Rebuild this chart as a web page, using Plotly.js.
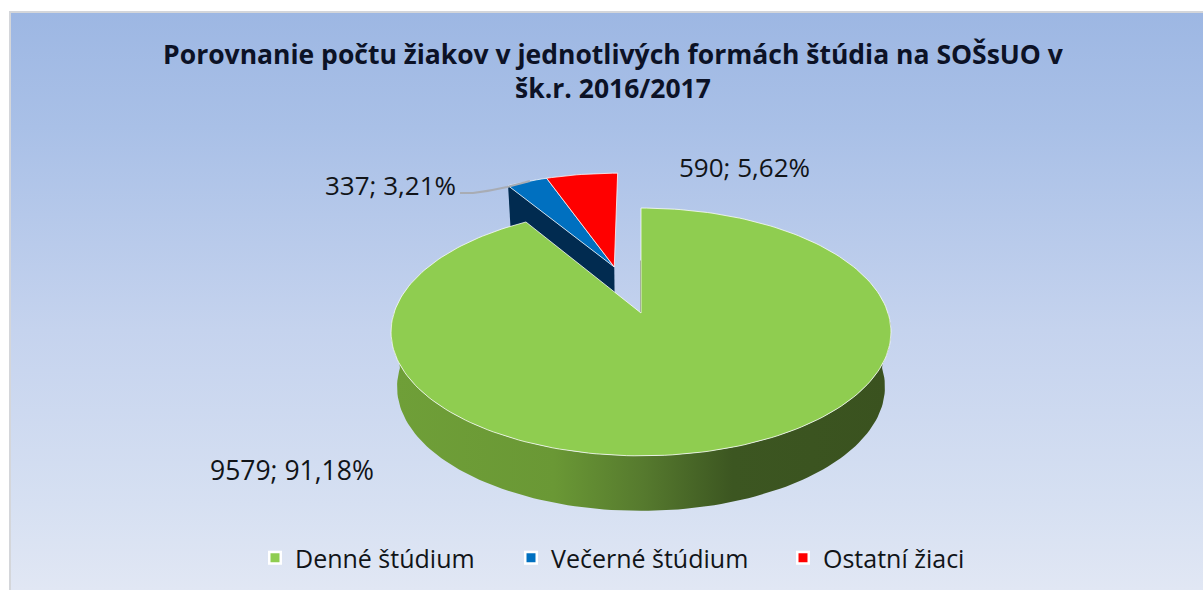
<!DOCTYPE html>
<html><head><meta charset="utf-8">
<script src="https://cdn.plot.ly/plotly-3.0.1.min.js"></script>
<style>html,body{margin:0;padding:0;background:#fff;overflow:hidden}#c{width:1203px;height:590px}</style>
</head><body><div id="c"></div>
<script>
const categories = ['Denné štúdium', 'Večerné štúdium', 'Ostatní žiaci'];
const values = [9579, 337, 590];
const topColors = ['#8fcd50', '#0070c0', '#ff0000'];
const titleText = 'Porovnanie počtu žiakov v jednotlivých formách štúdia na SOŠsUO v<br>šk.r. 2016/2017';

const W = 1203, H = 590, FONT = '"Open Sans", sans-serif';
// tilted-disc projection (unit circle -> page)
const CX = 641, CY = 313, A = 247, B = 121, Q = 0.153, DEPTH = 55, SHRINK = 0.976, PULL = 0.42;
const total = values.reduce((a, b) => a + b, 0);
const shares = values.map(v => v / total);
const deg = shares.map(s => s * 360);

function proj(u, v) { const w = 1 + Q * v; return [CX + A * u / w, CY - B * v / w]; }
function low(p) { return [CX + (p[0] - CX) * SHRINK, p[1] + DEPTH]; }
function rim(t, du, dv) { const r = t * Math.PI / 180; return proj(Math.sin(r) + du, Math.cos(r) + dv); }
function arc(a, b, du, dv) {
  const n = Math.max(2, Math.ceil(Math.abs(b - a) / 1.5)), pts = [];
  for (let i = 0; i <= n; i++) pts.push(rim(a + (b - a) * i / n, du, dv));
  return pts;
}
function poly(pts, extra) {
  return Object.assign({
    type: 'scatter', mode: 'lines', x: pts.map(p => p[0]), y: pts.map(p => p[1]),
    fill: 'toself', hoverinfo: 'skip', showlegend: false
  }, extra);
}
const edge = { width: 1, color: 'rgba(255,255,255,0.75)' };

// angles from the values, clockwise from the top
const g0 = 0, g1 = deg[0], b1 = g1 + deg[1], r1 = b1 + deg[2];
const mid = (g1 + r1) / 2 * Math.PI / 180;
const du = Math.sin(mid) * PULL, dv = Math.cos(mid) * PULL;
const apexMain = proj(0, 0), apexOut = proj(du, dv);

const traces = [];
// background panel
const L = 10, T = 12;
traces.push(poly([[L, T], [W, T], [W, H], [L, H], [L, T]], {
  line: { width: 0, color: '#c5d3ee' }, fillcolor: '#c5d3ee',
  fillgradient: { type: 'vertical', start: T, stop: H,
    colorscale: [[0, '#9db7e3'], [0.2, '#a9c0e7'], [0.55, '#c5d3ee'], [0.85, '#d6e0f2'], [1, '#e1e7f4']] }
}));
traces.push({ type: 'scatter', mode: 'lines', x: [L, L, W], y: [H, T, T], line: { width: 2, color: '#d4d6da' }, hoverinfo: 'skip', showlegend: false });
// cut wall of the pulled-out slices
const bRim = rim(g1, du, dv);
traces.push(poly([apexOut, bRim, low(bRim), low(apexOut), apexOut], { line: { width: 0, color: '#012b50' }, fillcolor: '#012b50' }));
// tops of the pulled-out slices
traces.push(poly([apexOut, ...arc(g1, b1, du, dv), apexOut], { line: edge, fillcolor: topColors[1] }));
traces.push(poly([apexOut, ...arc(b1, r1, du, dv), apexOut], { line: edge, fillcolor: topColors[2] }));
// main slice wall
const topFront = arc(90, 270, 0, 0);
traces.push(poly([...topFront, ...topFront.slice().reverse().map(low), topFront[0]], {
  line: { width: 0, color: '#567a2e' }, fillcolor: '#567a2e',
  fillgradient: { type: 'horizontal', start: 395, stop: 891,
    colorscale: [[0, '#6f9f38'], [0.32, '#6a9835'], [0.5, '#567a2e'], [0.68, '#3c5621'], [1, '#3a521f']] }
}));
// thin sliver of the start cut
const gTop = rim(g0, 0, 0);
traces.push({ type: 'scatter', mode: 'lines', x: [apexMain[0] - 0.5, (apexMain[0] + gTop[0]) / 2 - 0.5], y: [apexMain[1], (apexMain[1] + gTop[1]) / 2],
  line: { width: 1, color: '#6f7d68' }, hoverinfo: 'skip', showlegend: false });
// main slice top
traces.push(poly([apexMain, ...arc(g0, g1, 0, 0), apexMain], { line: edge, fillcolor: topColors[0] }));
// legend entries, one legend each so every entry keeps its own place
const legendIds = ['legend', 'legend2', 'legend3'];
categories.forEach((c, i) => traces.push({
  type: 'scatter', mode: 'markers', x: [null], y: [null], name: c, hoverinfo: 'skip', showlegend: true, legend: legendIds[i],
  marker: { symbol: 'square', size: 11.5, color: topColors[i], line: { width: 2.5, color: '#ffffff' } }
}));

function lab(i) { return values[i] + '; ' + (shares[i] * 100).toFixed(2).replace('.', ',') + '%'; }
const labelPos = [[292, 470], [390, 185], [744, 167]];
const labelSize = [26.5, 26, 26];
const annotations = labelPos.map((p, i) => ({
  xref: 'x', yref: 'y', x: p[0], y: p[1], text: lab(i), showarrow: false, xanchor: 'center', yanchor: 'middle',
  font: { family: FONT, size: labelSize[i], color: '#111418' }
}));
const legendX = [255, 511, 783];
function leg(i) {
  return { orientation: 'v', x: legendX[i] / W, xanchor: 'left', y: 1 - 558 / H, yanchor: 'middle',
    bgcolor: 'rgba(0,0,0,0)', itemwidth: 30, font: { family: FONT, size: 25, color: '#111418' } };
}

const layout = {
  width: W, height: H, margin: { l: 0, r: 0, t: 0, b: 0, pad: 0 },
  paper_bgcolor: '#ffffff', plot_bgcolor: 'rgba(0,0,0,0)', showlegend: true, hovermode: false,
  title: { text: titleText, x: 613 / W, xanchor: 'center', xref: 'paper', y: 1 - 64 / H, yanchor: 'top',
    font: { family: FONT, size: 26.5, weight: 700, color: '#0c1226' } },
  xaxis: { range: [0, W], visible: false, fixedrange: true },
  yaxis: { range: [H, 0], visible: false, fixedrange: true },
  legend: leg(0), legend2: leg(1), legend3: leg(2),
  shapes: [{ type: 'path', xref: 'x', yref: 'y', path: 'M 460 193 L 473 193 Q 490 191 507 187 L 530 181',
    line: { color: '#a8acb4', width: 2 } }],
  annotations
};
Plotly.newPlot('c', traces, layout, { displayModeBar: false, staticPlot: true });
</script></body></html>
